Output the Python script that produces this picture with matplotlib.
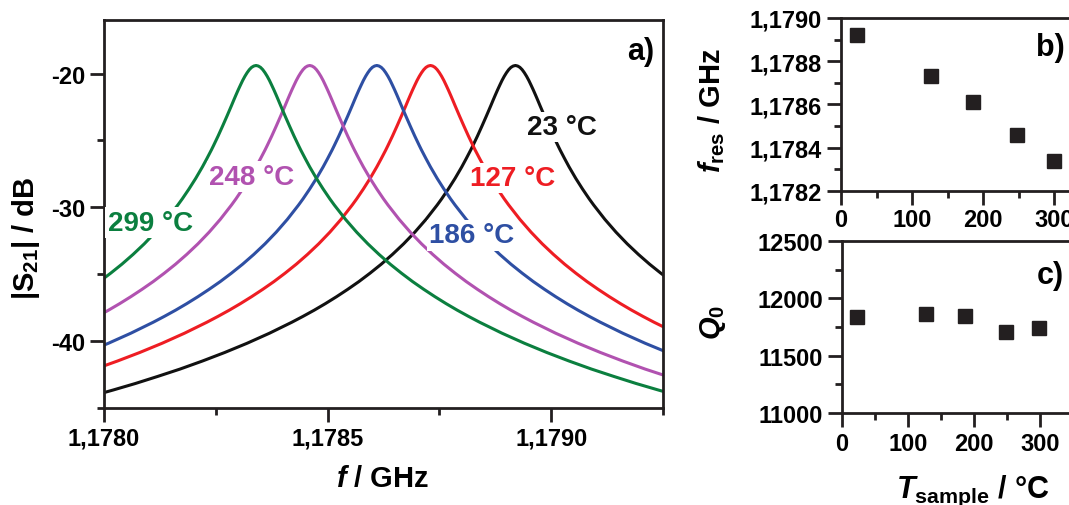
import numpy as np
import matplotlib
matplotlib.use('Agg')
import matplotlib.pyplot as plt
from matplotlib.ticker import MultipleLocator, FuncFormatter, FixedLocator

plt.rcParams['font.family'] = ['Liberation Sans', 'DejaVu Sans']
plt.rcParams['font.weight'] = 'bold'
plt.rcParams['axes.unicode_minus'] = False
plt.rcParams['mathtext.fontset'] = 'custom'
plt.rcParams['mathtext.rm'] = 'Liberation Sans:bold'
plt.rcParams['mathtext.it'] = 'Liberation Sans:bold:italic'
plt.rcParams['mathtext.bf'] = 'Liberation Sans:bold'

# temperatures of the sample (deg C)
temps = [23, 127, 186, 248, 299]
# resonance frequencies read from panel b) (GHz)
f_res = [1.17892, 1.17873, 1.17861, 1.17846, 1.17834]
# unloaded quality factor read from panel c)
q0 = [11837, 11863, 11846, 11706, 11741]

# resonance shape (symmetric about f_res):
# detuning from f_res (MHz) and |S21| (dB)
detune = [0.0, 0.005, 0.01, 0.015, 0.02, 0.025, 0.03, 0.035, 0.04, 0.045,
          0.05, 0.055, 0.06, 0.065, 0.07, 0.075, 0.08, 0.085, 0.09, 0.095,
          0.10, 0.11, 0.12, 0.135, 0.15, 0.165, 0.175, 0.20, 0.225, 0.25,
          0.275, 0.30, 0.325, 0.35, 0.375, 0.40, 0.425, 0.45, 0.475, 0.50,
          0.55, 0.60, 0.65, 0.70, 0.75, 0.80, 0.85, 0.90, 0.95]
s21 = [-19.40, -19.44, -19.54, -19.71, -19.94, -20.21, -20.52, -20.87, -21.23, -21.61,
       -22.00, -22.40, -22.79, -23.18, -23.56, -23.94, -24.31, -24.68, -25.03, -25.38,
       -25.72, -26.36, -26.98, -27.84, -28.63, -29.37, -29.83, -30.90, -31.86, -32.73,
       -33.52, -34.25, -34.92, -35.55, -36.13, -36.68, -37.20, -37.69, -38.15, -38.59,
       -39.41, -40.16, -40.85, -41.49, -42.09, -42.64, -43.17, -43.66, -44.13]

colors = ['#111111', '#ee1d23', '#2e4fa3', '#b152b0', '#0b7f3f']
labels = ['23 \u00b0C', '127 \u00b0C', '186 \u00b0C', '248 \u00b0C', '299 \u00b0C']
label_pos = [(1.179025, -24.0), (1.178913, -27.8), (1.178823, -32.1),
             (1.178331, -27.7), (1.178103, -31.15)]

fig = plt.figure(figsize=(10.69, 5.06), dpi=100)

comma4 = FuncFormatter(lambda v, p: ('%.4f' % v).replace('.', ','))

def style(ax):
    for s in ax.spines.values():
        s.set_linewidth(2.0)
        s.set_color('#231f20')
    ax.tick_params(which='major', length=10, width=2, labelsize=17, color='#231f20')
    ax.tick_params(which='minor', length=5, width=2, color='#231f20')
    for lab in ax.get_xticklabels() + ax.get_yticklabels():
        lab.set_fontweight('bold')

# panel a)
ax = fig.add_axes([0.0973, 0.1917, 0.5229, 0.7668])
d = np.array(detune) / 1000.0
xs = np.concatenate([-d[::-1], d[1:]])
ys = np.concatenate([np.array(s21)[::-1], np.array(s21)[1:]])
for f0, c in zip(f_res, colors):
    ax.plot(f0 + xs, ys, color=c, lw=2.2, zorder=2)
for (x, y), lab, c in zip(label_pos, labels, colors):
    ax.text(x, y, lab, color=c, fontsize=20, fontweight='bold', ha='center', va='center',
            zorder=3, bbox=dict(boxstyle='square,pad=0.08', fc='white', ec='none'))
ax.set_xlim(1.1780, 1.17925)
ax.set_ylim(-45, -16)
ax.xaxis.set_major_locator(FixedLocator([1.1780, 1.1785, 1.1790]))
ax.xaxis.set_minor_locator(FixedLocator([1.17825, 1.17875, 1.17925]))
ax.xaxis.set_major_formatter(comma4)
ax.yaxis.set_major_locator(MultipleLocator(10))
ax.yaxis.set_minor_locator(MultipleLocator(5))
style(ax)
ax.set_xlabel('$f$ / GHz', fontsize=21, fontweight='bold')
ax.set_ylabel('|S$_{\\mathregular{21}}$| / dB', fontsize=21, fontweight='bold')
ax.xaxis.set_label_coords(0.499, -0.144)
ax.yaxis.set_label_coords(-0.111, 0.44)
ax.text(0.985, 0.92, 'a)', transform=ax.transAxes, fontsize=22, fontweight='bold',
        ha='right', va='center')

# panel b)
axb = fig.add_axes([0.7867, 0.6206, 0.2329, 0.3419])
axb.plot(temps, f_res, 's', color='#231f20', ms=10.5)
axb.set_xlim(0, 350)
axb.set_ylim(1.1782, 1.1790)
axb.xaxis.set_major_locator(MultipleLocator(100))
axb.xaxis.set_minor_locator(MultipleLocator(50))
axb.yaxis.set_major_locator(FixedLocator([1.1782, 1.1784, 1.1786, 1.1788, 1.1790]))
axb.yaxis.set_minor_locator(FixedLocator([1.1783, 1.1785, 1.1787, 1.1789]))
axb.yaxis.set_major_formatter(comma4)
style(axb)
axb.tick_params(axis='x', which='major', pad=2)
axb.set_ylabel('$f_{\\mathregular{res}}$ / GHz', fontsize=21, fontweight='bold')
axb.yaxis.set_label_coords(-0.458, 0.468)
axb.text(0.84, 0.83, 'b)', transform=axb.transAxes, fontsize=22, fontweight='bold',
         ha='center', va='center')

# panel c)
axc = fig.add_axes([0.7877, 0.1818, 0.2161, 0.3399])
axc.plot(temps, q0, 's', color='#231f20', ms=10.5)
axc.set_xlim(0, 350)
axc.set_ylim(11000, 12500)
axc.xaxis.set_major_locator(MultipleLocator(100))
axc.xaxis.set_minor_locator(MultipleLocator(50))
axc.yaxis.set_major_locator(MultipleLocator(500))
axc.yaxis.set_minor_locator(MultipleLocator(250))
style(axc)
axc.set_ylabel('$Q_{\\mathregular{0}}$', fontsize=21, fontweight='bold')
axc.yaxis.set_label_coords(-0.494, 0.53)
axc.set_xlabel('$T_{\\mathregular{sample}}$ / \u00b0C', fontsize=22, fontweight='bold')
axc.xaxis.set_label_coords(0.567, -0.35)
axc.text(0.90, 0.80, 'c)', transform=axc.transAxes, fontsize=22, fontweight='bold',
         ha='center', va='center')

plt.savefig('out.png', dpi=100)
